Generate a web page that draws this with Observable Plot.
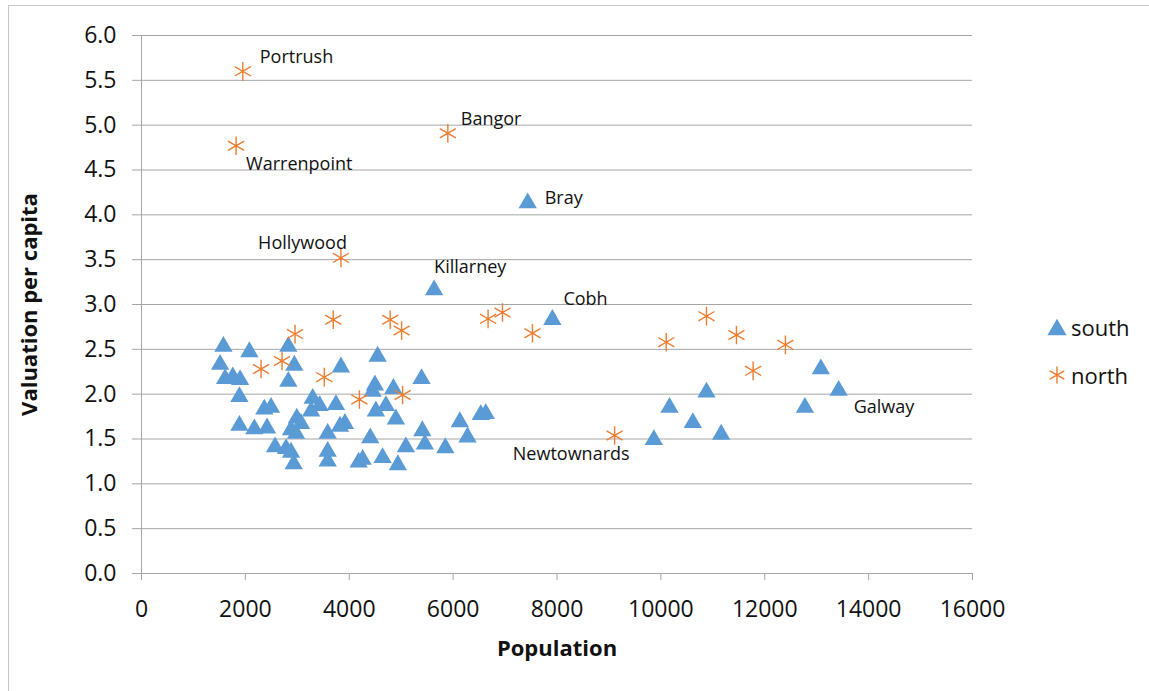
<!DOCTYPE html>
<html>
<head>
<meta charset="utf-8">
<script src="https://cdn.jsdelivr.net/npm/d3@7"></script>
<script src="https://cdn.jsdelivr.net/npm/@observablehq/plot@0.6"></script>
<style>
  body { margin: 0; background: #fff; }
  #wrap { position: relative; width: 1149px; height: 691px; overflow: hidden; font-family: "Open Sans", sans-serif; }
  #border { position: absolute; left: 8px; top: 5px; width: 1300px; height: 900px; border: 1px solid #c9c9c9; }
  #chart { position: absolute; left: 0; top: 0; }
  .legend-item { position: absolute; display: flex; align-items: center; font-size: 22px; color: #111; }
  .legend-item svg { margin-right: 4px; overflow: visible; }
</style>
</head>
<body>
<div id="wrap">
  <div id="border"></div>
  <div id="chart"></div>
</div>
<script>
// Towns in the south: population and valuation per capita (named towns first)
const southNames = ["Bray", "Killarney", "Cobh", "Galway"];
const southPop = [7436, 5634, 7911, 13423, 13080, 12773, 11161, 10615, 10878, 10167, 9865,
  6629, 6532, 6129, 6277, 5850, 5392, 5407, 5456, 5090, 4898, 4936, 4850, 4706, 4546, 4494,
  4450, 4513, 4642, 4404, 4258, 4181, 3840, 3744, 3822, 3917, 3585, 3585, 3585, 3296, 3266,
  3430, 2990, 3071, 2879, 2975, 2827, 2942, 2827, 2783, 2879, 2931, 2571, 2365, 2494, 2417,
  2173, 2077, 1885, 1885, 1898, 1758, 1610, 1513, 1577];
const southVal = [4.16, 3.19, 2.86, 2.07, 2.31, 1.88, 1.58, 1.71, 2.05, 1.88, 1.52,
  1.81, 1.80, 1.72, 1.55, 1.43, 2.20, 1.62, 1.47, 1.44, 1.75, 1.24, 2.09, 1.90, 2.45, 2.13,
  2.06, 1.84, 1.32, 1.54, 1.30, 1.27, 2.33, 1.91, 1.67, 1.70, 1.59, 1.39, 1.28, 1.98, 1.84,
  1.90, 1.76, 1.70, 1.63, 1.59, 2.56, 2.35, 2.17, 1.42, 1.38, 1.25, 1.44, 1.86, 1.88, 1.65,
  1.64, 2.50, 1.68, 2.00, 2.19, 2.22, 2.20, 2.36, 2.56];

// Towns in the north (named towns first)
const northNames = ["Portrush", "Warrenpoint", "Bangor", "Hollywood", "Newtownards"];
const northPop = [1950, 1821, 5898, 3840, 9109, 2956, 2706, 2302, 3692, 3519, 4788, 5008,
  4196, 5027, 6673, 6950, 7527, 10103, 10878, 11455, 11776, 12398];
const northVal = [5.60, 4.77, 4.91, 3.52, 1.54, 2.67, 2.37, 2.28, 2.83, 2.19, 2.83, 2.71,
  1.94, 1.99, 2.84, 2.91, 2.68, 2.58, 2.87, 2.66, 2.26, 2.55];

const seriesNames = ["south", "north"];
const xTicks = [0, 2000, 4000, 6000, 8000, 10000, 12000, 14000, 16000];
const yTicks = [0, 0.5, 1, 1.5, 2, 2.5, 3, 3.5, 4, 4.5, 5, 5.5, 6];

const south = southPop.map((p, i) => ({series: "south", pop: p, val: southVal[i], name: southNames[i] || ""}));
const north = northPop.map((p, i) => ({series: "north", pop: p, val: northVal[i], name: northNames[i] || ""}));

const blue = "#5b9bd5";
const orange = "#ed7d31";
const gridColor = "#a6a6a6";
const font = '"Open Sans", sans-serif';

// Where each data label sits relative to its marker
const labelPlacement = {
  Portrush:    {dx: 17, dy: -14, anchor: "start"},
  Warrenpoint: {dx: 10, dy: 18,  anchor: "start"},
  Bangor:      {dx: 13, dy: -14, anchor: "start"},
  Hollywood:   {dx: 6,  dy: -15, anchor: "end"},
  Newtownards: {dx: 15, dy: 19,  anchor: "end"},
  Bray:        {dx: 17, dy: -2,  anchor: "start"},
  Killarney:   {dx: 0,  dy: -20, anchor: "start"},
  Cobh:        {dx: 11, dy: -18, anchor: "start"},
  Galway:      {dx: 15, dy: 19,  anchor: "start"}
};

const labelled = [...north, ...south].filter(d => d.name);
const labelMarks = labelled.map(d => {
  const p = labelPlacement[d.name];
  return Plot.text([d], {x: "pop", y: "val", text: "name", dx: p.dx, dy: p.dy,
    textAnchor: p.anchor, fontSize: 18, fill: "#111"});
});

const chart = Plot.plot({
  width: 1149,
  height: 691,
  marginLeft: 141,
  marginRight: 177,
  marginTop: 35,
  marginBottom: 118,
  style: {fontFamily: font, background: "transparent", overflow: "visible"},
  x: {domain: [0, 16000]},
  y: {domain: [0, 6]},
  marks: [
    Plot.gridY(yTicks, {stroke: gridColor, strokeOpacity: 1}),
    Plot.axisY(yTicks, {tickSize: 9, tickPadding: 16, stroke: gridColor, fill: "#111",
      fontSize: 23, tickFormat: d => d.toFixed(1), label: null}),
    Plot.axisX(xTicks, {tickSize: 7, tickPadding: 20, stroke: gridColor, fill: "#111",
      fontSize: 23, tickFormat: d => String(d), label: null}),
    Plot.ruleX([0], {stroke: gridColor}),
    Plot.ruleY([0], {stroke: gridColor}),
    Plot.dot(south, {x: "pop", y: "val", symbol: "triangle", r: 6.8, fill: blue, stroke: "none", dy: 2.6}),
    Plot.dot(north, {x: "pop", y: "val", symbol: "asterisk", r: 8.8, stroke: orange, strokeWidth: 1.4}),
    ...labelMarks,
    Plot.text(["Population"], {frameAnchor: "bottom", dy: 75, lineAnchor: "middle", textAnchor: "middle",
      fontSize: 22, fontWeight: "bold", fill: "#111"}),
    Plot.text(["Valuation per capita"], {frameAnchor: "left", dx: -112, rotate: -90, textAnchor: "middle",
      lineAnchor: "middle", fontSize: 22, fontWeight: "bold", fill: "#111"})
  ]
});
document.getElementById("chart").appendChild(chart);

// Legend to the right of the plot area
const legendSymbols = {
  south: {type: d3.symbolTriangle, size: 160, fill: blue, stroke: "none", shift: 2.8},
  north: {type: d3.symbolAsterisk, size: 200, fill: "none", stroke: orange, shift: 0}
};
const wrap = document.getElementById("wrap");
seriesNames.forEach((name, i) => {
  const s = legendSymbols[name];
  const item = document.createElement("div");
  item.className = "legend-item";
  item.style.left = "1047px";
  item.style.top = (311 + i * 48) + "px";
  const svg = d3.create("svg").attr("width", 20).attr("height", 32);
  svg.append("path")
    .attr("transform", `translate(10,${16 + s.shift})`)
    .attr("d", d3.symbol(s.type, s.size)())
    .attr("fill", s.fill)
    .attr("stroke", s.stroke)
    .attr("stroke-width", 1.4);
  item.appendChild(svg.node());
  const label = document.createElement("span");
  label.textContent = name;
  item.appendChild(label);
  wrap.appendChild(item);
});
</script>
</body>
</html>
